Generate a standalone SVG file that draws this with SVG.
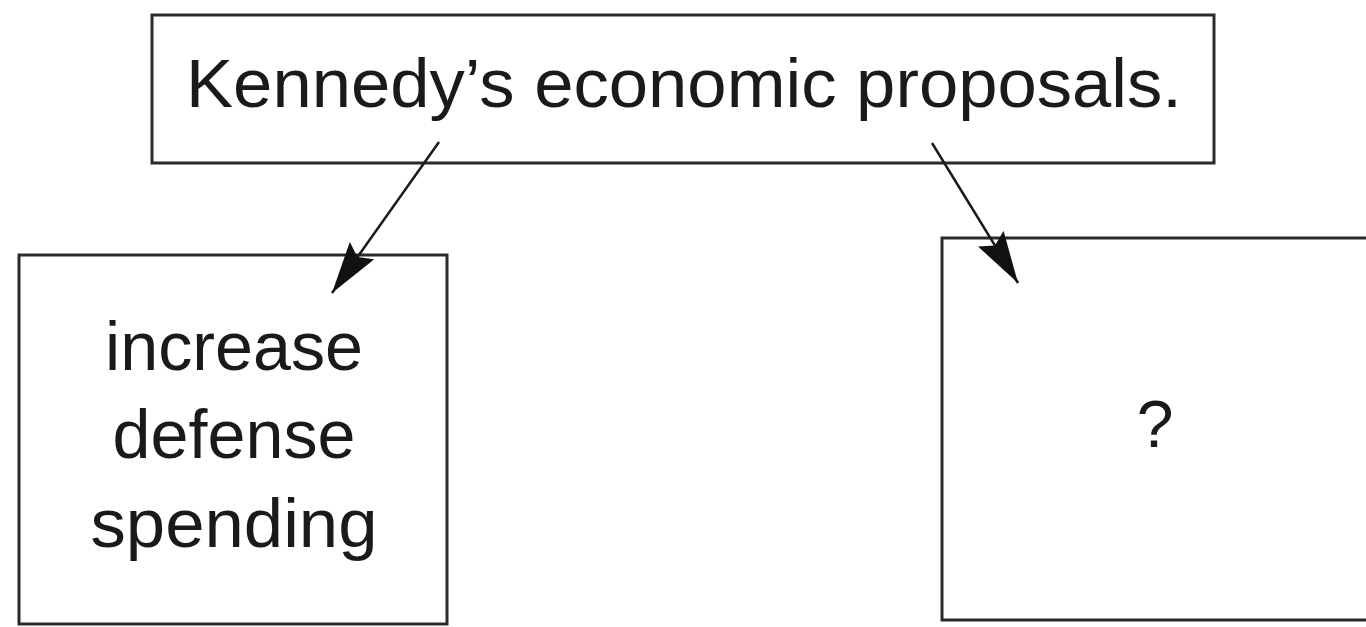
<svg xmlns="http://www.w3.org/2000/svg" width="1366" height="627" viewBox="0 0 1366 627">
  <style>
    .box { fill: #ffffff; stroke: #2b2b2b; stroke-width: 3; }
    .lbl { font-family: "Liberation Sans", Arial, sans-serif; fill: #1a1a1a; text-anchor: middle; }
    .conn { stroke: #1a1a1a; stroke-width: 2.5; fill: none; }
  </style>
  <defs>
    <marker id="arrow" viewBox="0 0 52 30" refX="52" refY="15" markerWidth="52" markerHeight="30" markerUnits="userSpaceOnUse" orient="auto">
      <path d="M0,0 L52,15 L0,30 L8,15 Z" fill="#111111"/>
    </marker>
  </defs>
  <rect width="1366" height="627" fill="#ffffff"/>
  <g id="node-top">
    <rect class="box" x="152" y="15" width="1062" height="148"/>
    <text class="lbl" x="684" y="107" font-size="69" textLength="996" lengthAdjust="spacingAndGlyphs">Kennedy’s economic proposals.</text>
  </g>
  <g id="node-left">
    <rect class="box" x="19" y="255" width="428" height="369"/>
    <text class="lbl" x="234" y="370" font-size="68" textLength="258" lengthAdjust="spacingAndGlyphs">increase</text>
    <text class="lbl" x="234" y="458" font-size="68" textLength="243" lengthAdjust="spacingAndGlyphs">defense</text>
    <text class="lbl" x="234" y="547" font-size="68" textLength="287" lengthAdjust="spacingAndGlyphs">spending</text>
  </g>
  <g id="node-right">
    <rect class="box" x="942" y="238" width="500" height="382"/>
    <text class="lbl" x="1155" y="447" font-size="66">?</text>
  </g>
  <g id="connectors">
    <line class="conn" x1="439" y1="142" x2="332" y2="293" marker-end="url(#arrow)"/>
    <line class="conn" x1="932" y1="143" x2="1018" y2="283" marker-end="url(#arrow)"/>
  </g>
</svg>
